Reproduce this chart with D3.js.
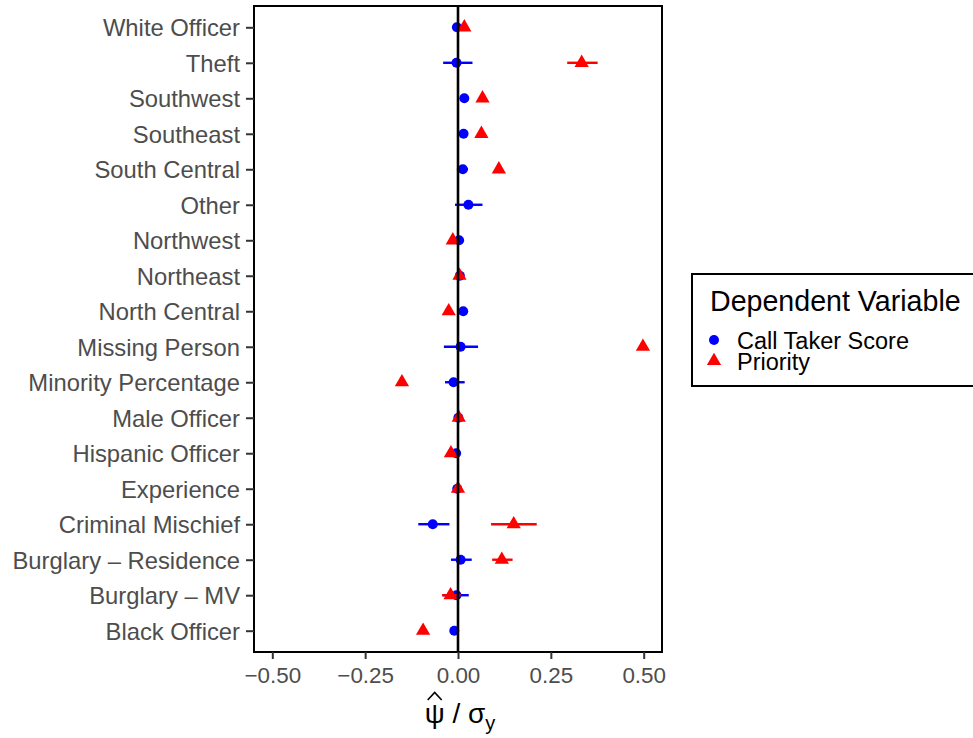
<!DOCTYPE html>
<html>
<head>
<meta charset="utf-8">
<script src="https://cdn.jsdelivr.net/npm/d3@7"></script>
<style>
  body { margin: 0; background: #fff; }
  svg { font-family: "Liberation Sans", Arial, sans-serif; }
</style>
</head>
<body>
<div id="chart"></div>
<script>
// data (top row first)
var categories = ["White Officer", "Theft", "Southwest", "Southeast", "South Central", "Other",
  "Northwest", "Northeast", "North Central", "Missing Person", "Minority Percentage",
  "Male Officer", "Hispanic Officer", "Experience", "Criminal Mischief",
  "Burglary \u2013 Residence", "Burglary \u2013 MV", "Black Officer"];

// Call Taker Score: estimate, lower, upper
var callTakerEst = [-0.003, -0.004, 0.017, 0.015, 0.013, 0.028, 0.003, 0.005, 0.014, 0.007, -0.012, 0.001, -0.005, -0.002, -0.068, 0.007, -0.004, -0.010];
var callTakerLo  = [-0.008, -0.040, 0.012, 0.010, -0.003, -0.008, -0.001, 0.001, 0.009, -0.038, -0.035, -0.002, -0.009, -0.004, -0.107, -0.019, -0.041, -0.014];
var callTakerHi  = [0.002, 0.039, 0.022, 0.020, 0.027, 0.066, 0.007, 0.009, 0.019, 0.054, 0.018, 0.004, 0.000, 0.001, -0.023, 0.037, 0.029, -0.006];

// Priority: estimate, lower, upper (no estimate for "Other")
var priorityEst = [0.017, 0.333, 0.066, 0.063, 0.110, null, -0.014, 0.004, -0.025, 0.498, -0.151, 0.002, -0.019, 0.000, 0.150, 0.118, -0.020, -0.094];
var priorityLo  = [0.012, 0.294, 0.061, 0.058, 0.105, null, -0.018, 0.000, -0.029, 0.494, -0.157, -0.002, -0.025, -0.004, 0.089, 0.092, -0.043, -0.099];
var priorityHi  = [0.022, 0.376, 0.071, 0.068, 0.115, null, -0.010, 0.008, -0.021, 0.502, -0.145, 0.006, -0.012, 0.004, 0.212, 0.147, 0.007, -0.089];

var xTicks = [-0.50, -0.25, 0.00, 0.25, 0.50];

var width = 973, height = 738;
var panel = { left: 254, right: 662, top: 6, bottom: 652 };

var svg = d3.select('#chart').append('svg')
  .attr('width', width)
  .attr('height', height);

var x = d3.scaleLinear()
  .domain([-0.5493, 0.5493])
  .range([panel.left, panel.right]);

var y = d3.scalePoint()
  .domain(categories)
  .range([panel.top, panel.bottom])
  .padding(0.6);

var series = [
  { name: "Call Taker Score", color: "#0000FF", shape: "circle", est: callTakerEst, lo: callTakerLo, hi: callTakerHi },
  { name: "Priority", color: "#FF0000", shape: "triangle", est: priorityEst, lo: priorityLo, hi: priorityHi }
];

var triangle = d3.symbol().type(d3.symbolTriangle).size(88);

series.forEach(function(s) {
  var rows = categories.map(function(c, i) {
    return { cat: c, est: s.est[i], lo: s.lo[i], hi: s.hi[i] };
  }).filter(function(d) { return d.est !== null; });

  var g = svg.append('g');
  g.selectAll('line')
    .data(rows)
    .enter().append('line')
    .attr('x1', function(d) { return x(d.lo); })
    .attr('x2', function(d) { return x(d.hi); })
    .attr('y1', function(d) { return y(d.cat); })
    .attr('y2', function(d) { return y(d.cat); })
    .attr('stroke', s.color)
    .attr('stroke-width', 2.4);

  if (s.shape === 'circle') {
    g.selectAll('circle')
      .data(rows)
      .enter().append('circle')
      .attr('cx', function(d) { return x(d.est); })
      .attr('cy', function(d) { return y(d.cat); })
      .attr('r', 5)
      .attr('fill', s.color);
  } else {
    g.selectAll('path')
      .data(rows)
      .enter().append('path')
      .attr('d', triangle)
      .attr('transform', function(d) { return 'translate(' + x(d.est) + ',' + y(d.cat) + ')'; })
      .attr('fill', s.color);
  }
});

// zero line on top of the points
svg.append('line')
  .attr('x1', x(0)).attr('x2', x(0))
  .attr('y1', panel.top).attr('y2', panel.bottom)
  .attr('stroke', '#000')
  .attr('stroke-width', 2.6);

// panel border
svg.append('rect')
  .attr('x', panel.left).attr('y', panel.top)
  .attr('width', panel.right - panel.left)
  .attr('height', panel.bottom - panel.top)
  .attr('fill', 'none')
  .attr('stroke', '#000')
  .attr('stroke-width', 2);

// y axis
var yAxis = svg.append('g')
  .attr('transform', 'translate(' + panel.left + ',0)')
  .call(d3.axisLeft(y).tickSize(8).tickPadding(6));
yAxis.select('.domain').remove();
yAxis.selectAll('line').attr('stroke', '#333333').attr('stroke-width', 2);
yAxis.selectAll('text')
  .attr('fill', '#4D4D4D')
  .attr('dy', '0.36em')
  .style('font-size', '23.8px')
  .style('font-family', '"Liberation Sans", Arial, sans-serif');

// x axis
var xAxis = svg.append('g')
  .attr('transform', 'translate(0,' + panel.bottom + ')')
  .call(d3.axisBottom(x).tickValues(xTicks).tickSize(7).tickPadding(8)
    .tickFormat(function(d) { return d3.format('.2f')(d).replace('-', '\u2212'); }));
xAxis.select('.domain').remove();
xAxis.selectAll('line').attr('stroke', '#333333').attr('stroke-width', 2);
xAxis.selectAll('text')
  .attr('fill', '#4D4D4D')
  .style('font-size', '22.4px')
  .style('font-family', '"Liberation Sans", Arial, sans-serif');

// x axis title: psi-hat / sigma_y
var title = svg.append('text')
  .attr('x', 460)
  .attr('y', 723)
  .attr('text-anchor', 'middle')
  .style('font-size', '28px')
  .attr('fill', '#000');
title.append('tspan').attr('class', 'psi').text('\u03C8');
title.append('tspan').text(' / \u03C3');
title.append('tspan').attr('dy', 7).style('font-size', '20px').text('y');

var psiBox = title.select('.psi').node().getBBox();
var hx = psiBox.x + psiBox.width / 2;
svg.append('path')
  .attr('d', 'M' + (hx - 7) + ',700 L' + hx + ',692.5 L' + (hx + 7) + ',700')
  .attr('fill', 'none')
  .attr('stroke', '#000')
  .attr('stroke-width', 1.6);

// legend
var legend = svg.append('g');
legend.append('rect')
  .attr('x', 692).attr('y', 274)
  .attr('width', 290).attr('height', 112)
  .attr('fill', '#fff')
  .attr('stroke', '#000')
  .attr('stroke-width', 2);
legend.append('text')
  .attr('x', 710).attr('y', 310.5)
  .style('font-size', '28.6px')
  .text('Dependent Variable');

var keyY = [340, 361];
var textY = [348.5, 369.5];
series.forEach(function(s, i) {
  if (s.shape === 'circle') {
    legend.append('circle').attr('cx', 714).attr('cy', keyY[i]).attr('r', 5).attr('fill', s.color);
  } else {
    legend.append('path').attr('d', triangle)
      .attr('transform', 'translate(714,' + keyY[i] + ')')
      .attr('fill', s.color);
  }
  legend.append('text')
    .attr('x', 737).attr('y', textY[i])
    .style('font-size', '23.5px')
    .text(s.name);
});
</script>
</body>
</html>
